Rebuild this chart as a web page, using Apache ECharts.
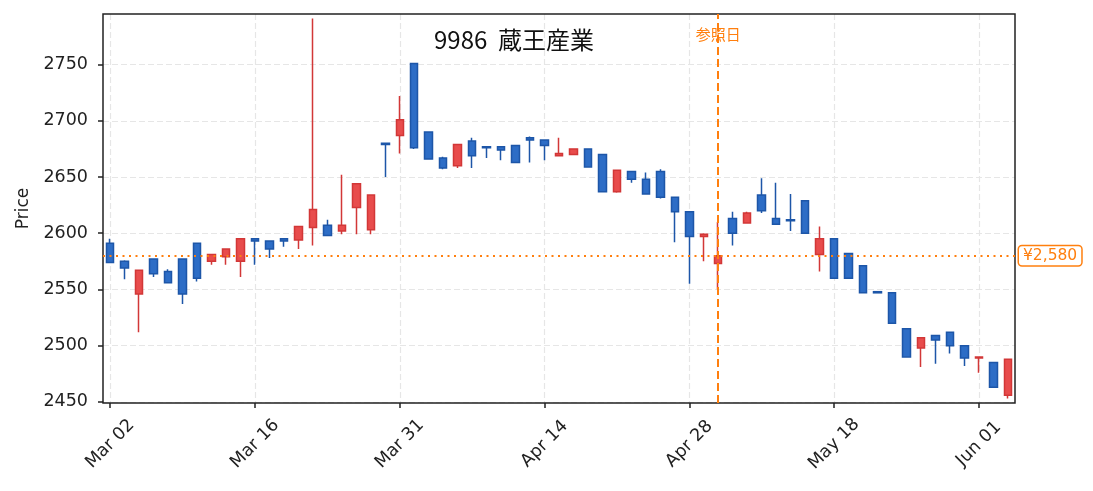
<!DOCTYPE html>
<html><head><meta charset="utf-8">
<script src="https://cdn.jsdelivr.net/npm/echarts@6/dist/echarts.min.js"></script>
<style>html,body{margin:0;padding:0;background:#fff}#c{width:1093px;height:491px}</style>
</head><body><div id="c"></div>
<script>
const dates = [
 '2026-03-02','2026-03-03','2026-03-04','2026-03-05','2026-03-06',
 '2026-03-09','2026-03-10','2026-03-11','2026-03-12','2026-03-13',
 '2026-03-16','2026-03-17','2026-03-18','2026-03-19',
 '2026-03-23','2026-03-24','2026-03-25','2026-03-26','2026-03-27',
 '2026-03-30','2026-03-31','2026-04-01','2026-04-02','2026-04-03',
 '2026-04-06','2026-04-07','2026-04-08','2026-04-09','2026-04-10',
 '2026-04-13','2026-04-14','2026-04-15','2026-04-16','2026-04-17',
 '2026-04-20','2026-04-21','2026-04-22','2026-04-23','2026-04-24',
 '2026-04-27','2026-04-28','2026-04-30','2026-05-01',
 '2026-05-07','2026-05-08',
 '2026-05-11','2026-05-12','2026-05-13','2026-05-14','2026-05-15',
 '2026-05-18','2026-05-19','2026-05-20','2026-05-21','2026-05-22',
 '2026-05-25','2026-05-26','2026-05-27','2026-05-28','2026-05-29',
 '2026-06-01','2026-06-02','2026-06-03'
];
const opens  = [2591,2575,2546,2577,2566,2577,2591,2575,2579,2575,2595,2593,2595,2594,2605,2607,2602,2623,2603,2680,2687,2751,2690,2667,2660,2682,2677,2677,2678,2685,2683,2669,2670,2675,2670,2637,2655,2648,2655,2632,2619,2597,2573,2613,2609,2634,2613,2612,2629,2581,2595,2582,2571,2548,2547,2515,2498,2509,2512,2500,2489,2485,2456];
const closes = [2574,2569,2567,2564,2556,2546,2560,2581,2586,2595,2593,2586,2593,2606,2621,2598,2607,2644,2634,2679,2701,2676,2666,2658,2679,2669,2676,2674,2663,2683,2678,2671,2675,2659,2637,2656,2648,2635,2632,2619,2597,2599,2580,2600,2618,2620,2608,2611,2600,2595,2560,2560,2547,2547,2520,2490,2507,2505,2500,2489,2490,2463,2488];
const lows   = [2574,2559,2512,2561,2556,2537,2557,2572,2572,2561,2572,2578,2588,2586,2589,2598,2599,2599,2599,2650,2671,2675,2666,2657,2658,2658,2667,2665,2663,2663,2665,2669,2670,2659,2637,2636,2645,2635,2631,2592,2555,2575,2550,2589,2609,2618,2608,2602,2600,2566,2560,2560,2547,2547,2520,2490,2481,2484,2493,2482,2476,2463,2453];
const highs  = [2595,2576,2567,2577,2568,2577,2591,2581,2586,2595,2595,2593,2595,2606,2791,2612,2652,2644,2634,2680,2722,2751,2690,2668,2679,2685,2677,2677,2678,2686,2683,2685,2675,2675,2670,2656,2655,2654,2657,2632,2619,2600,2610,2619,2619,2649,2645,2635,2629,2606,2595,2582,2571,2548,2547,2515,2507,2509,2512,2500,2490,2485,2488];
const yTicks = [2450,2500,2550,2600,2650,2700,2750];
const chartTitle = '9986  蔵王産業';
const refDate = '2026-05-01';
const refPrice = 2580;
const refLabel = '参照日';
const MON = ['Jan','Feb','Mar','Apr','May','Jun','Jul','Aug','Sep','Oct','Nov','Dec'];
function fmtDate(s){const p=s.split('-');return MON[+p[1]-1]+' '+p[2];}
const ohlc = dates.map((d,i)=>[opens[i],closes[i],lows[i],highs[i]]);
const ORANGE = '#ff7f0e';
const gridLine = {type:[6,3],color:'#e6e6e6',width:1.2};
const chart = echarts.init(document.getElementById('c'));
chart.setOption({
  animation:false,
  title:{text:chartTitle,left:434,top:28,padding:0,
    textStyle:{fontFamily:'Noto Sans CJK JP',fontSize:24,fontWeight:'normal',color:'#111',lineHeight:24}},
  grid:{left:103,right:78,top:14,bottom:88,containLabel:false,outerBoundsMode:'none',z:1,
    show:true,borderColor:'#222',borderWidth:1.5,backgroundColor:'rgba(0,0,0,0)'},
  xAxis:{type:'category',data:dates,boundaryGap:true,z:0,
    axisLine:{show:false},
    axisTick:{show:true,interval:9,alignWithLabel:true,length:5,lineStyle:{color:'#222',width:1.5}},
    axisLabel:{interval:9,rotate:45,align:'center',verticalAlign:'middle',margin:41,formatter:fmtDate,
      fontFamily:'DejaVu Sans',fontSize:17.5,color:'#222'},
    splitLine:{show:true,interval:9,alignWithLabel:true,lineStyle:gridLine}},
  yAxis:{type:'value',min:2449,max:2795,scale:true,name:'Price',nameLocation:'middle',nameGap:71,z:0,
    nameTextStyle:{fontFamily:'DejaVu Sans',fontSize:17,color:'#222'},
    axisLine:{show:false},
    axisTick:{show:true,customValues:yTicks,length:5,lineStyle:{color:'#222',width:1.5}},
    axisLabel:{customValues:yTicks,margin:15,formatter:v=>String(v),fontFamily:'DejaVu Sans',fontSize:17.5,color:'#222'},
    splitLine:{show:true,lineStyle:gridLine}},
  series:[{
    type:'candlestick',data:ohlc,barWidth:8,z:3,
    itemStyle:{color:'#e84c4c',color0:'#2d6dc6',borderColor:'#d23737',borderColor0:'#1d56a8',borderWidth:1.5},
    markLine:{silent:true,symbol:['none','none'],animation:false,
      data:[
        {yAxis:refPrice,lineStyle:{type:[2,4.5],color:ORANGE,width:2},
          label:{show:true,position:'end',distance:4,formatter:'¥'+refPrice.toLocaleString('en-US'),
            color:ORANGE,fontFamily:'DejaVu Sans',fontSize:15.5,backgroundColor:'#fff',
            borderColor:ORANGE,borderWidth:1.5,borderRadius:3,padding:[2,4,1,4]}},
        {xAxis:refDate,lineStyle:{type:[8,4],color:ORANGE,width:2},label:{show:false}}
      ]},
    markPoint:{silent:true,symbol:'circle',symbolSize:0.1,itemStyle:{color:'rgba(0,0,0,0)'},
      data:[{coord:[refDate,2777],label:{show:true,position:'inside',formatter:refLabel,
        color:ORANGE,fontSize:15,fontFamily:'Noto Sans CJK JP'}}]}
  }]
});
</script></body></html>
